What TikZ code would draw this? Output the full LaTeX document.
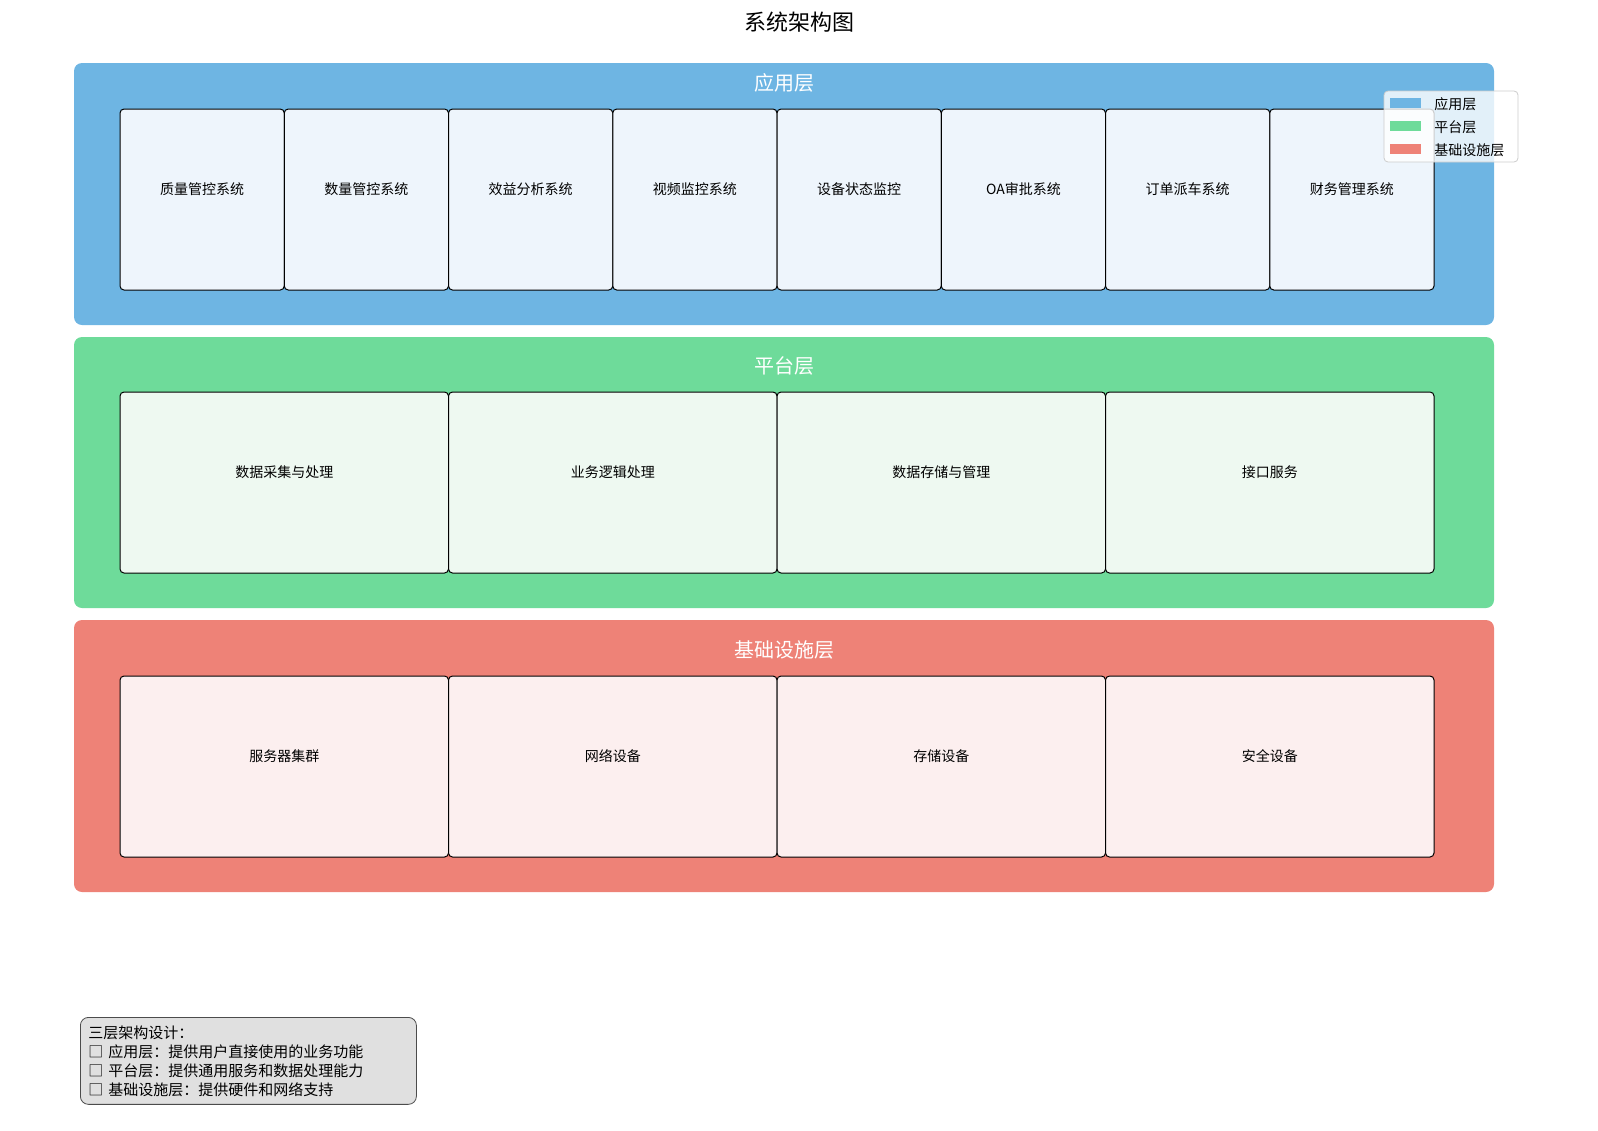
\documentclass[tikz,border=0pt]{standalone}
\usepackage{fontspec}
\setmainfont{Noto Sans CJK SC}
\usetikzlibrary{positioning}
\definecolor{appc}{HTML}{6EB5E3}
\definecolor{platc}{HTML}{6EDB9A}
\definecolor{infc}{HTML}{EE8277}
\definecolor{appf}{HTML}{EEF5FC}
\definecolor{platf}{HTML}{EEF9F1}
\definecolor{inff}{HTML}{FCEFEF}
\tikzset{
  layer/.style={rounded corners=4pt, draw=none},
  ltitle/.style={text=white, font=\fontsize{10}{12}\selectfont},
  mod/.style={draw=black, line width=0.5pt, rounded corners=2pt},
  modtext/.style={font=\fontsize{7}{8}\selectfont},
}
\begin{document}%
\begin{tikzpicture}[x=0.5pt, y=-0.5pt]%
	\node (title) at (799,22) {\fontsize{11}{13}\selectfont 系统架构图};
	
	% layers
	\fill[layer, appc] (74,63) rectangle (1494,325);
	\fill[layer, platc] (74,337) rectangle (1494,608);
	\fill[layer, infc] (74,620) rectangle (1494,892);
	\node[ltitle] (tapp) at (784,83) {应用层};
	\node[ltitle] (tplat) at (784,366) {平台层};
	\node[ltitle] (tinf) at (784,650) {基础设施层};
	
	% application modules
	\foreach \t [count=\i] in {质量管控系统,数量管控系统,效益分析系统,视频监控系统,设备状态监控,OA审批系统,订单派车系统,财务管理系统}{
		\draw[mod, fill=appf] ({120+(\i-1)*164.25},109) rectangle ++(164.25,181);
		\node[modtext] (app\i) at ({120+(\i-0.5)*164.25},189) {\t};
	}
	
	% platform modules
	\foreach \t [count=\i] in {数据采集与处理,业务逻辑处理,数据存储与管理,接口服务}{
		\draw[mod, fill=platf] ({120+(\i-1)*328.5},392) rectangle ++(328.5,181);
		\node[modtext] (plat\i) at ({120+(\i-0.5)*328.5},472) {\t};
	}
	
	% infrastructure modules
	\foreach \t [count=\i] in {服务器集群,网络设备,存储设备,安全设备}{
		\draw[mod, fill=inff] ({120+(\i-1)*328.5},676) rectangle ++(328.5,181);
		\node[modtext] (inf\i) at ({120+(\i-0.5)*328.5},756) {\t};
	}
	
	% legend
	\draw[draw=black!20, fill=white, fill opacity=0.8, rounded corners=2pt] (1384,91) rectangle (1518,162);
	\foreach \c/\t [count=\i] in {appc/应用层,platc/平台层,infc/基础设施层}{
		\fill[\c] (1390,{98+(\i-1)*23}) rectangle ++(31,10);
		\node[anchor=west, inner sep=0pt, modtext] (leg\i) at (1434,{104+(\i-1)*23}) {\t};
	}
	
	% note
	\node[draw=black!70, fill=black!12, rounded corners=4pt, anchor=north west, align=left,
		font=\fontsize{7.5}{9.5}\selectfont, inner sep=4pt, text width=160pt] (note) at (80,1017)
		{三层架构设计：\\□\ 应用层：提供用户直接使用的业务功能\\□\ 平台层：提供通用服务和数据处理能力\\□\ 基础设施层：提供硬件和网络支持};
	
	\pgfresetboundingbox
	\useasboundingbox (0,0) rectangle (1598,1130);
\end{tikzpicture}%
\end{document}
